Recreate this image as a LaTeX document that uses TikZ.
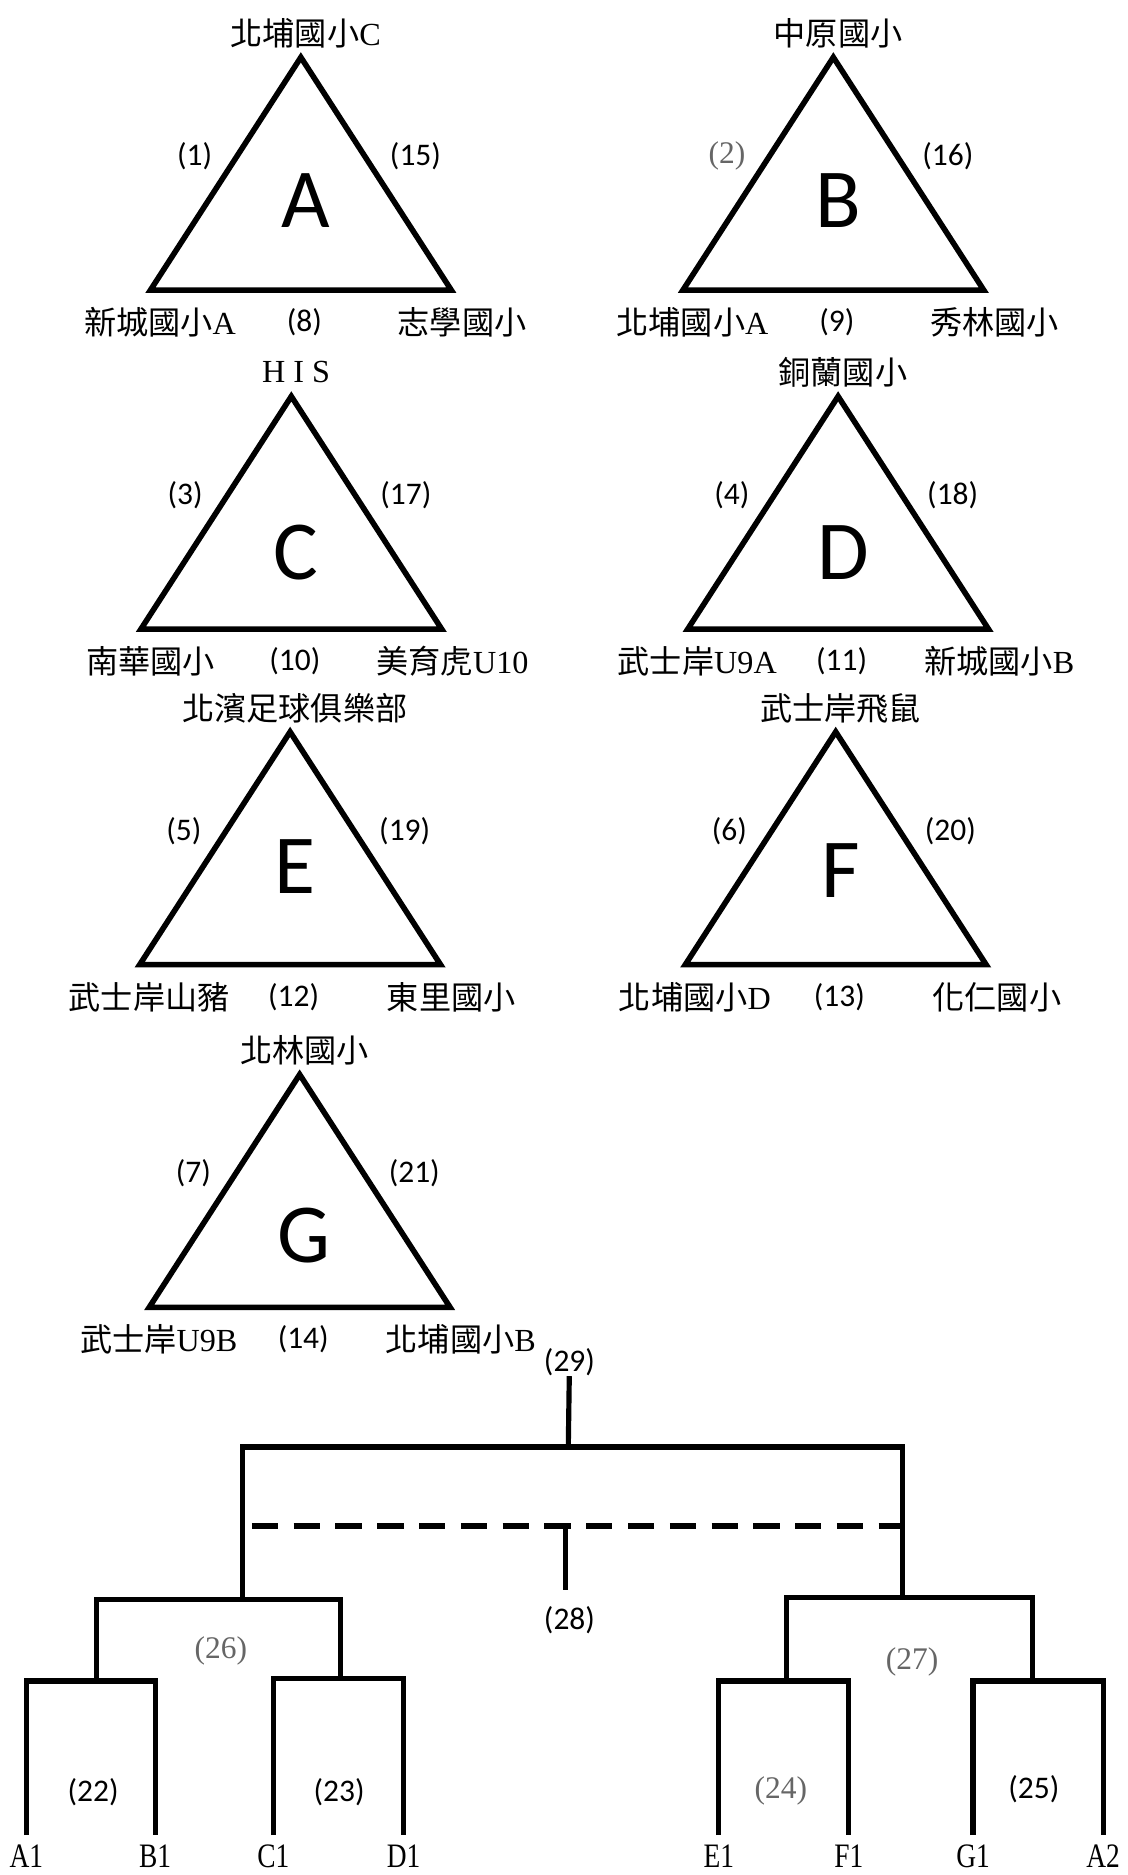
\documentclass[tikz,border=0pt]{standalone}
\usepackage{fontspec}
\setmainfont{Liberation Serif}
\newfontfamily\cjk{Noto Sans CJK TC}
\newfontfamily\sansnum{Carlito}
\newfontfamily\leaffont[FakeStretch=0.8]{Liberation Serif}
\colorlet{numgray}{black!60}
\newcommand{\dimnum}[1]{{\rmfamily\color{numgray}#1}}
\tikzset{
    triedge/.style = {line width=0.14cm, line join=miter},
    biglet/.style = {font=\sansnum\fontsize{60}{70}\selectfont, inner sep=0pt},
    teamlab/.style = {font=\fontsize{23}{27}\selectfont, inner sep=0pt},
    numlab/.style = {font=\sansnum\fontsize{22.5}{26}\selectfont, inner sep=0pt},
    roundlab/.style = {font=\sansnum\fontsize{22.5}{26}\selectfont, inner sep=0pt},
    leaf/.style = {font=\leaffont\fontsize{24.5}{28}\selectfont, anchor=north, inner sep=0.24cm},
    treeline/.style = {line width=0.13cm},
    dashline/.style = {line width=0.16cm, dash pattern=on 0.66cm off 0.39cm}}
% group triangle: letter, apex, top team, left game, right game, left team, base game, right team, letter drop
\newcommand{\tri}[9]{%
    \coordinate (#1top) at (#2);
    \coordinate (#1bl) at ([shift={(-126,195)}]#1top);
    \coordinate (#1br) at ([shift={(126,195)}]#1top);
    \draw[triedge] (#1top) -- (#1bl) -- (#1br) -- cycle;
    \node[biglet] (#1let) at ([shift={(4,#9)}]#1top) {#1};
    \node[teamlab] (#1team1) at ([shift={(4,-20)}]#1top) {#3};
    \node[numlab] (#1g1) at ([shift={(-89,83)}]#1top) {#4};
    \node[numlab] (#1g3) at ([shift={(96,83)}]#1top) {#5};
    \node[teamlab] (#1team2) at ([shift={(-118,222)}]#1top) {#6};
    \node[numlab] (#1g2) at ([shift={(3,222)}]#1top) {#7};
    \node[teamlab] (#1team3) at ([shift={(135,222)}]#1top) {#8};}
\begin{document}
\begin{tikzpicture}[x={0.03cm}, y={-0.03cm}]
        \useasboundingbox (0,0) rectangle (944.7,1570.5);
        \tri{A}{252,48}{{\cjk 北埔國小}C}{(1)}{(15)}{{\cjk 新城國小}A}{(8)}{{\cjk 志學國小}}{120}
        \tri{B}{698,48}{{\cjk 中原國小}}{\dimnum{(2)}}{(16)}{{\cjk 北埔國小}A}{(9)}{{\cjk 秀林國小}}{120}
        \tri{C}{244,332}{H I S}{(3)}{(17)}{{\cjk 南華國小}}{(10)}{{\cjk 美育虎}U10}{131}
        \tri{D}{702,332}{{\cjk 銅蘭國小}}{(4)}{(18)}{{\cjk 武士岸}U9A}{(11)}{{\cjk 新城國小}B}{131}
        \tri{E}{243,613}{{\cjk 北濱足球俱樂部}}{(5)}{(19)}{{\cjk 武士岸山豬}}{(12)}{{\cjk 東里國小}}{113}
        \tri{F}{700,613}{{\cjk 武士岸飛鼠}}{(6)}{(20)}{{\cjk 北埔國小}D}{(13)}{{\cjk 化仁國小}}{116}
        \tri{G}{251,900}{{\cjk 北林國小}}{(7)}{(21)}{{\cjk 武士岸}U9B}{(14)}{{\cjk 北埔國小}B}{135}
        % knockout
        \foreach \leafname/\lx in {A1/22,B1/130,C1/229,D1/338,E1/602,F1/711,G1/815,A2/924}
            \node[leaf] (leaf\leafname) at (\lx,1537) {\leafname};
        \node[roundlab] (n22) at (78,1501) {(22)};
        \node[roundlab] (n23) at (284,1501) {(23)};
        \node[roundlab] (n24) at (654,1500) {\dimnum{(24)}};
        \node[roundlab] (n25) at (866,1499) {(25)};
        \node[roundlab] (n26) at (185,1383) {\dimnum{(26)}};
        \node[roundlab] (n27) at (764,1392) {\dimnum{(27)}};
        \node[roundlab] (n28) at (477,1357) {(28)};
        \node[roundlab] (n29) at (477,1141) {(29)};
        \coordinate (j22) at (81,1408);
        \coordinate (j23) at (285,1406);
        \coordinate (j24) at (659,1408);
        \coordinate (j25) at (865,1408);
        \coordinate (j26) at (203,1340);
        \coordinate (j27) at (756,1338);
        \coordinate (j29) at (476,1212);
        \coordinate (dashL) at (211,1278);
        \coordinate (dashR) at (756,1278);
        \coordinate (dashM) at (474,1278);
        \coordinate (stub28) at (474,1332);
        \draw[treeline] (leafA1.north) |- (j22) -| (leafB1.north);
        \draw[treeline] (leafC1.north) |- (j23) -| (leafD1.north);
        \draw[treeline] (leafE1.north) |- (j24) -| (leafF1.north);
        \draw[treeline] (leafG1.north) |- (j25) -| (leafA2.north);
        \draw[treeline] (j22) |- (j26) -| (j23);
        \draw[treeline] (j24) |- (j27) -| (j25);
        \draw[treeline] (j26) |- (j29) -| (j27);
        \draw[treeline] (n29) -- (j29);
        \draw[dashline] (dashL) -- (dashR);
        \draw[treeline] (dashM) -- (stub28);
\end{tikzpicture}
\end{document}
